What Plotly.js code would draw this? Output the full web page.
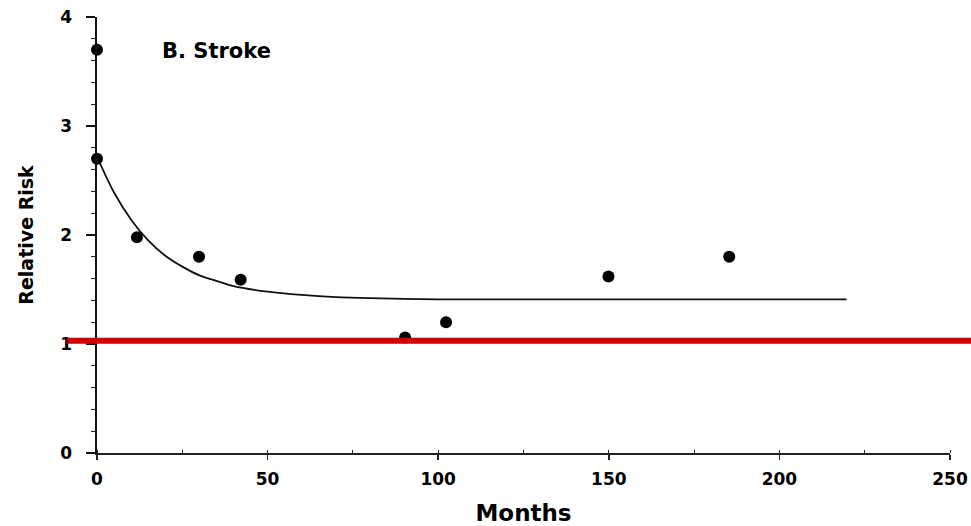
<!DOCTYPE html>
<html>
<head>
<meta charset="utf-8">
<script src="https://cdn.plot.ly/plotly-3.0.1.min.js"></script>
<style>html,body{margin:0;padding:0;background:#fff;}#chart{width:971px;height:526px;}</style>
</head>
<body>
<div id="chart"></div>
<script>
// Observed relative risk points
var monthsObs = [0, 0, 11.7, 29.9, 42.1, 90.3, 102.3, 149.9, 185.3];
var riskObs   = [3.70, 2.70, 1.98, 1.80, 1.59, 1.06, 1.20, 1.62, 1.80];
// Fitted curve
var monthsFit = [0, 5, 10, 15, 20, 25, 30, 35, 40, 50, 60, 70, 80, 100, 150, 219.7];
var riskFit   = [2.72, 2.39, 2.14, 1.95, 1.81, 1.71, 1.63, 1.58, 1.53, 1.48, 1.45, 1.43, 1.42, 1.41, 1.41, 1.41];
// Reference line
var refRisk = 1.03;
var xTicks = [0, 50, 100, 150, 200, 250];
var yTicks = [0, 1, 2, 3, 4];
var panelLabel = 'B. Stroke';

var tickFont = {family: 'DejaVu Sans', size: 17, color: '#000', weight: 'bold'};

var traces = [
  {x: monthsFit, y: riskFit, mode: 'lines', type: 'scatter',
   line: {color: '#111', width: 1.8, shape: 'spline', smoothing: 1},
   hoverinfo: 'skip', showlegend: false, cliponaxis: false},
  {x: monthsObs, y: riskObs, mode: 'markers', type: 'scatter',
   marker: {color: '#000', size: 12},
   showlegend: false, cliponaxis: false}
];

var layout = {
  width: 971, height: 526,
  margin: {l: 97, r: 21, t: 17, b: 73, pad: 0},
  paper_bgcolor: '#fff', plot_bgcolor: '#fff',
  font: {family: 'DejaVu Sans', color: '#000'},
  xaxis: {
    range: [0, 250], tickvals: xTicks, ticktext: xTicks.map(String),
    showgrid: false, zeroline: false,
    showline: true, linecolor: '#222', linewidth: 2,
    ticks: 'outside', ticklen: 5, tickwidth: 1.5, tickcolor: '#222',
    ticklabelstandoff: 5, ticklabeloverflow: 'allow',
    minor: {dtick: 25, tick0: 0, ticks: 'inside', ticklen: 3, tickcolor: '#222', tickwidth: 1},
    tickfont: tickFont,
    title: {text: 'Months', font: {family: 'DejaVu Sans', size: 23, weight: 'bold', color: '#000'}, standoff: 18}
  },
  yaxis: {
    range: [0, 4], tickvals: yTicks, ticktext: yTicks.map(String),
    showgrid: false, zeroline: false,
    showline: true, linecolor: '#111', linewidth: 2.5,
    ticks: 'outside', ticklen: 9, tickwidth: 1.5, tickcolor: '#111',
    ticklabelstandoff: 10,
    minor: {dtick: 0.2, tick0: 0, ticks: 'outside', ticklen: 4, tickcolor: '#222', tickwidth: 1},
    tickfont: tickFont,
    title: {text: 'Relative Risk', font: {family: 'DejaVu Sans', size: 19, weight: 'bold', color: '#000'}, standoff: 22}
  },
  shapes: [
    {type: 'line', layer: 'above', xref: 'paper', yref: 'y',
     x0: -0.035, x1: 1.03, y0: refRisk, y1: refRisk,
     line: {color: '#d40000', width: 6}}
  ],
  annotations: [
    {text: panelLabel, xref: 'x', yref: 'y', x: 18.5, y: 3.69, xanchor: 'left', yanchor: 'middle',
     showarrow: false, font: {family: 'DejaVu Sans', size: 21, weight: 'bold', color: '#000'}}
  ]
};

Plotly.newPlot('chart', traces, layout, {staticPlot: true, displayModeBar: false});
</script>
</body>
</html>
